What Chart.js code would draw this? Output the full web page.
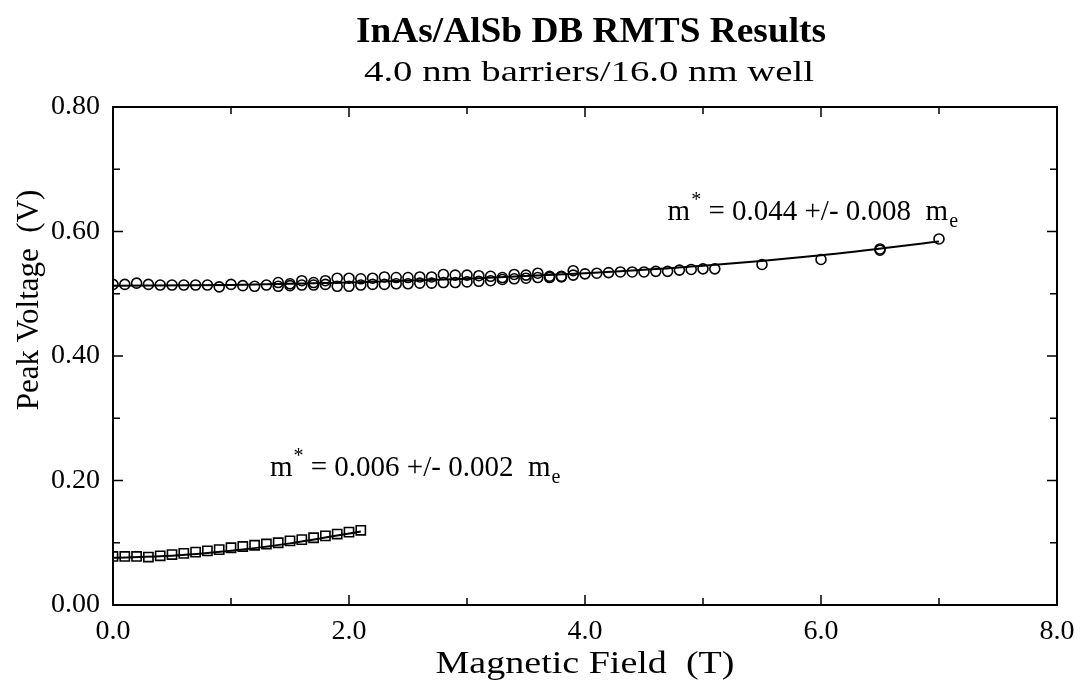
<!DOCTYPE html>
<html><head><meta charset="utf-8">
<script src="https://cdn.jsdelivr.net/npm/chart.js@4/dist/chart.umd.min.js"></script>
<style>html,body{margin:0;padding:0;background:#fff}</style>
</head><body>
<canvas id="c" width="1081" height="680"></canvas>
<script>
// ---- data ----
const squareField = [0.0,0.1,0.2,0.3,0.4,0.5,0.6,0.7,0.8,0.9,1.0,1.1,1.2,1.3,1.4,1.5,1.6,1.7,1.8,1.9,2.0,2.1];
const squareVoltage = [0.078,0.078,0.078,0.077,0.079,0.081,0.083,0.085,0.087,0.089,0.092,0.094,0.096,0.098,0.100,0.103,0.105,0.108,0.111,0.114,0.117,0.120];

const circleFieldA = [0.0,0.1,0.2,0.3,0.4,0.5,0.6,0.7,0.8,0.9,1.0,1.1,1.2,1.3,
  1.4,1.5,1.6,1.7,1.8,1.9,2.0,2.1,2.2,2.3,2.4,2.5,2.6,2.7,2.8,2.9,3.0,3.1,3.2,3.3,3.4,3.5,3.6,3.7,3.8,3.9,
  4.0,4.1,4.2,4.3,4.4,4.5,4.6,4.7,4.8,4.9,5.0,5.1,5.5,6.0,6.5,6.5,7.0];
const circleVoltageA = [0.515,0.515,0.517,0.515,0.514,0.514,0.514,0.514,0.514,0.511,0.515,0.513,0.512,0.514,
  0.518,0.516,0.521,0.518,0.521,0.525,0.525,0.524,0.525,0.527,0.526,0.526,0.527,0.527,0.531,0.530,0.530,0.529,0.528,0.526,0.531,0.530,0.533,0.528,0.528,0.537,
  0.532,0.533,0.534,0.535,0.535,0.535,0.536,0.536,0.538,0.539,0.540,0.540,0.547,0.555,0.570,0.572,0.588];
const circleFieldB = [1.4,1.5,1.6,1.7,1.8,1.9,2.0,2.1,2.2,2.3,2.4,2.5,2.6,2.7,2.8,2.9,3.0,3.1,3.2,3.3,3.4,3.5,3.6,3.7,3.8,3.9];
const circleVoltageB = [0.512,0.513,0.514,0.514,0.515,0.512,0.512,0.514,0.515,0.515,0.516,0.516,0.517,0.517,0.518,0.518,0.519,0.520,0.521,0.523,0.524,0.525,0.526,0.526,0.527,0.530];

const fitHighField = [0,1,2,3,4,5,6,7];
const fitHighVoltage = [0.513,0.514,0.518,0.524,0.533,0.545,0.562,0.584];
const fitLowField = [0,0.5,1.0,1.5,2.1];
const fitLowVoltage = [0.076,0.079,0.087,0.099,0.118];

const xMin = 0, xMax = 8, xMajor = 2, xMinor = 1;
const yMin = 0, yMax = 0.8, yMajor = 0.2, yMinor = 0.1;

const titleText = 'InAs/AlSb DB RMTS Results';
const subtitleText = '4.0 nm barriers/16.0 nm well';
const xAxisTitle = 'Magnetic Field  (T)';
const yAxisTitle = 'Peak Voltage  (V)';
const noteHigh = {x: 4.70, y: 0.618, value: ' = 0.044 +/- 0.008  m'};
const noteLow  = {x: 1.33, y: 0.207, value: ' = 0.006 +/- 0.002  m'};

const pts = (xs, ys) => xs.map((x, i) => ({x, y: ys[i]}));
const SERIF = '"Liberation Serif", "DejaVu Serif", serif';

function drawStretched(ctx, text, cx, y, font, targetWidth) {
  ctx.save();
  ctx.font = font;
  ctx.textAlign = 'center';
  const w = ctx.measureText(text).width;
  const sx = targetWidth / w;
  ctx.translate(cx, y);
  ctx.scale(sx, 1);
  ctx.fillText(text, 0, 0);
  ctx.restore();
}

const framePlugin = {
  id: 'frame',
  afterDatasetsDraw(chart) {
    const {ctx, chartArea: a, scales} = chart;
    ctx.save();
    ctx.strokeStyle = '#000';
    ctx.lineWidth = 2;
    ctx.strokeRect(a.left, a.top, a.right - a.left, a.bottom - a.top);
    ctx.lineWidth = 1.5;
    ctx.beginPath();
    for (let v = xMin; v <= xMax + 1e-9; v += xMinor) {
      const px = scales.x.getPixelForValue(v);
      const len = (Math.abs(v / xMajor - Math.round(v / xMajor)) < 1e-6) ? 10 : 7;
      ctx.moveTo(px, a.bottom); ctx.lineTo(px, a.bottom - len);
      ctx.moveTo(px, a.top); ctx.lineTo(px, a.top + len);
    }
    for (let v = yMin; v <= yMax + 1e-9; v += yMinor) {
      const py = scales.y.getPixelForValue(v);
      const len = (Math.abs(v / yMajor - Math.round(v / yMajor)) < 1e-6) ? 10 : 7;
      ctx.moveTo(a.left, py); ctx.lineTo(a.left + len, py);
      ctx.moveTo(a.right, py); ctx.lineTo(a.right - len, py);
    }
    ctx.stroke();

    // annotations
    ctx.fillStyle = '#000';
    ctx.textBaseline = 'alphabetic';
    ctx.textAlign = 'left';
    for (const n of [noteHigh, noteLow]) {
      let x = scales.x.getPixelForValue(n.x);
      const y = scales.y.getPixelForValue(n.y);
      ctx.font = '29px ' + SERIF;
      ctx.fillText('m', x, y);
      x += ctx.measureText('m').width;
      ctx.font = '20px ' + SERIF;
      ctx.fillText('*', x + 1, y - 14);
      x += ctx.measureText('*').width + 1;
      ctx.font = '29px ' + SERIF;
      ctx.fillText(n.value, x, y);
      x += ctx.measureText(n.value).width;
      ctx.font = '20px ' + SERIF;
      ctx.fillText('e', x + 1, y + 7);
    }

    // titles
    const cx = (a.left + a.right) / 2;
    drawStretched(ctx, titleText, cx + 6, 42, 'bold 35px ' + SERIF, 470);
    drawStretched(ctx, subtitleText, cx + 4, 81, '30px ' + SERIF, 450);
    drawStretched(ctx, xAxisTitle, cx, 673, '32px ' + SERIF, 299);

    // y axis title
    ctx.save();
    ctx.translate(30, 300);
    ctx.rotate(-Math.PI / 2);
    ctx.font = '31px ' + SERIF;
    ctx.textAlign = 'center';
    ctx.textBaseline = 'middle';
    ctx.fillText(yAxisTitle, 0, 0);
    ctx.restore();
    ctx.restore();
  }
};

new Chart(document.getElementById('c'), {
  type: 'scatter',
  data: {
    datasets: [
      {label: 'fit high', type: 'line', data: pts(fitHighField, fitHighVoltage), borderColor: '#000', borderWidth: 2, pointRadius: 0, cubicInterpolationMode: 'monotone', fill: false},
      {label: 'fit low', type: 'line', data: pts(fitLowField, fitLowVoltage), borderColor: '#000', borderWidth: 2, pointRadius: 0, cubicInterpolationMode: 'monotone', fill: false},
      {label: 'circles A', data: pts(circleFieldA, circleVoltageA), pointStyle: 'circle', pointRadius: 5, borderColor: '#000', borderWidth: 1.6, backgroundColor: 'rgba(0,0,0,0)'},
      {label: 'circles B', data: pts(circleFieldB, circleVoltageB), pointStyle: 'circle', pointRadius: 5, borderColor: '#000', borderWidth: 1.6, backgroundColor: 'rgba(0,0,0,0)'},
      {label: 'squares', data: pts(squareField, squareVoltage), pointStyle: 'rect', pointRadius: 6.5, borderColor: '#000', borderWidth: 1.6, backgroundColor: 'rgba(0,0,0,0)'}
    ]
  },
  options: {
    responsive: false,
    animation: false,
    devicePixelRatio: 1,
    layout: {padding: {top: 107, right: 24, left: 0, bottom: 0}},
    plugins: {legend: {display: false}, tooltip: {enabled: false}},
    scales: {
      x: {
        type: 'linear', min: xMin, max: xMax,
        grid: {display: false}, border: {display: false},
        ticks: {stepSize: xMajor, color: '#000', padding: 2, font: {family: SERIF, size: 28}, callback: v => v.toFixed(1), maxRotation: 0},
        title: {display: false},
        afterFit(s) { s.height = 75; s.paddingLeft = 0; s.paddingRight = 0; }
      },
      y: {
        type: 'linear', min: yMin, max: yMax,
        grid: {display: false}, border: {display: false},
        ticks: {stepSize: yMajor, color: '#000', padding: 5, font: {family: SERIF, size: 28}, callback: v => v.toFixed(2)},
        title: {display: false},
        afterFit(s) { s.width = 113; s.paddingTop = 0; s.paddingBottom = 0; }
      }
    }
  },
  plugins: [framePlugin]
});
</script>
</body></html>
